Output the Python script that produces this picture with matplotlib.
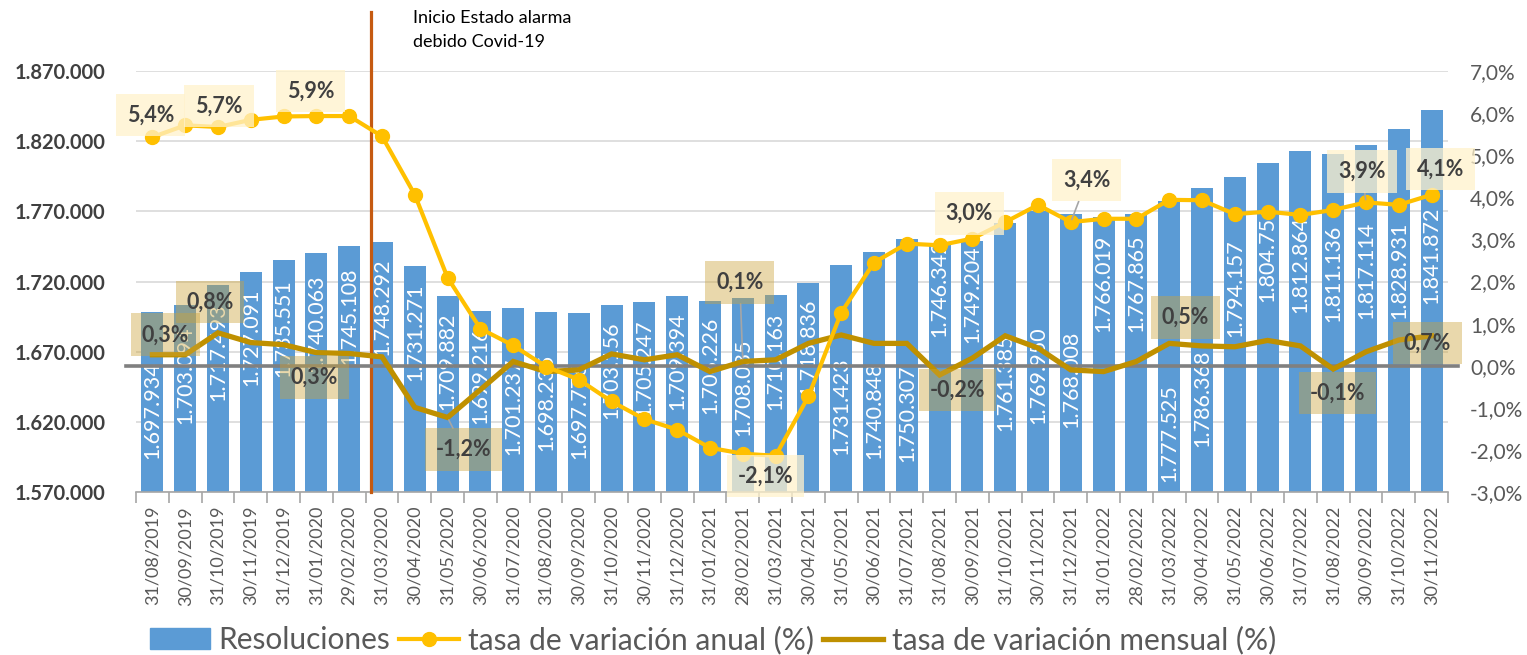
import matplotlib
matplotlib.use('Agg')
import matplotlib.pyplot as plt
import numpy as np
from matplotlib.patches import Patch
from matplotlib.lines import Line2D

fechas = ['31/08/2019', '30/09/2019', '31/10/2019', '30/11/2019', '31/12/2019',
          '31/01/2020', '29/02/2020', '31/03/2020', '30/04/2020', '31/05/2020',
          '30/06/2020', '31/07/2020', '31/08/2020', '30/09/2020', '31/10/2020',
          '30/11/2020', '31/12/2020', '31/01/2021', '28/02/2021', '31/03/2021',
          '30/04/2021', '31/05/2021', '30/06/2021', '31/07/2021', '31/08/2021',
          '30/09/2021', '31/10/2021', '30/11/2021', '31/12/2021', '31/01/2022',
          '28/02/2022', '31/03/2022', '30/04/2022', '31/05/2022', '30/06/2022',
          '31/07/2022', '31/08/2022', '30/09/2022', '31/10/2022', '30/11/2022']

resoluciones = [1697934, 1703094, 1717493, 1727091, 1735551, 1740063, 1745108, 1748292,
                1731271, 1709882, 1699216, 1701237, 1698235, 1697776, 1703156, 1705247,
                1709394, 1706226, 1708035, 1710163, 1718836, 1731423, 1740848, 1750307,
                1746342, 1749204, 1761385, 1769950, 1768008, 1766019, 1767865, 1777525,
                1786368, 1794157, 1804756, 1812864, 1811136, 1817114, 1828931, 1841872]

tasa_anual = [5.43, 5.71, 5.67, 5.84, 5.92, 5.93, 5.93, 5.45, 4.06, 2.09,
              0.88, 0.48, -0.02, -0.33, -0.85, -1.27, -1.52, -1.95, -2.09, -2.14,
              -0.73, 1.26, 2.45, 2.90, 2.86, 3.02, 3.41, 3.82, 3.41, 3.49,
              3.49, 3.94, 3.93, 3.60, 3.66, 3.58, 3.70, 3.88, 3.82, 4.06]

tasa_mensual = [0.26, 0.26, 0.78, 0.55, 0.50, 0.31, 0.29, 0.21, -0.99, -1.23,
                -0.57, 0.10, -0.14, -0.10, 0.28, 0.14, 0.26, -0.14, 0.10, 0.14,
                0.53, 0.73, 0.53, 0.53, -0.22, 0.18, 0.71, 0.42, -0.10, -0.14,
                0.10, 0.53, 0.47, 0.45, 0.60, 0.47, -0.08, 0.33, 0.61, 0.71]

# which points carry a % label, and where the label box sits (offset in pixels)
etq_anual = {0: (-2, 22), 2: (1, 21), 5: (-6, 25), 19: (-10, -20), 25: (-3, 25),
             28: (16, 42), 37: (-4, 31), 39: (9, 26)}
etq_mensual = {0: (13, 20), 2: (-8, 31), 5: (-2, -25), 9: (16, -32), 18: (-3, 79),
               24: (18, -15), 31: (16, 26), 36: (4, -24), 39: (-4, -7)}
con_guia = {('a', 28), ('a', 37), ('m', 9), ('m', 18)}

# centre of the white value label inside each bar (thousands, left axis)
pos_etiqueta = [1628, 1653, 1670, 1680, 1687, 1690, 1695, 1702, 1684, 1663,
                1653, 1631, 1634, 1628, 1657, 1658, 1663, 1660, 1645, 1663,
                1673, 1631, 1628, 1626, 1715, 1711, 1648, 1653, 1650, 1719,
                1719, 1612, 1637, 1715, 1740, 1732, 1726, 1728, 1728, 1739]

plt.rcParams['font.family'] = ['Lato', 'DejaVu Sans']

AZUL = '#5B9BD5'
AMARILLO = '#FFC000'
ORO = '#BF9000'
GRIS = '#595959'

fig = plt.figure(figsize=(15.27, 6.55), dpi=100)
ax = fig.add_axes([136 / 1527, 1 - 492 / 655, 1312 / 1527, 421 / 655])
ax2 = ax.twinx()

x = np.arange(len(fechas))


def miles(v):
    return f'{v:,.0f}'.replace(',', '.')


def pct(v):
    return f'{v:.1f}%'.replace('.', ',')


ax.bar(x, resoluciones, width=0.67, color=AZUL, zorder=2)
for i, v in enumerate(resoluciones):
    ax.text(i, pos_etiqueta[i] * 1000, miles(v), rotation=90, ha='center', va='center',
            color='white', fontsize=15.5, zorder=3)

ax.set_ylim(1570000, 1870000)
ax.set_yticks(np.arange(1570000, 1870001, 50000))
ax.set_yticklabels([miles(v) for v in ax.get_yticks()], fontsize=14.5,
                   fontweight='bold', color='#404040')
ax.grid(axis='y', color='#D9D9D9', lw=1.2, zorder=0)
ax.set_axisbelow(True)
ax.set_xlim(-0.5, len(fechas) - 0.5)
ax.set_xticks(x)
ax.set_xticklabels(fechas, rotation=90, fontsize=13, color=GRIS)
ax.set_xticks(np.arange(-0.5, len(fechas), 1), minor=True)
ax.tick_params(axis='x', which='major', length=0, pad=10)
ax.tick_params(axis='x', which='minor', length=8, width=1.2, color='#A6A6A6')
ax.tick_params(axis='y', length=0, pad=22)
for s in ['top', 'left', 'right']:
    ax.spines[s].set_visible(False)
ax.spines['bottom'].set_color('#A6A6A6')
ax.spines['bottom'].set_linewidth(1.2)

ax2.set_ylim(-3, 7)
ax2.set_yticks(np.arange(-3, 7.01, 1))
ax2.set_yticklabels([pct(v) for v in ax2.get_yticks()], fontsize=15, color=GRIS)
ax2.tick_params(axis='y', length=0, pad=16)
for s in ax2.spines.values():
    s.set_visible(False)

ax2.axhline(0, xmin=-0.008, xmax=1.008, color='#808080', lw=2.6, clip_on=False, zorder=1)
ax2.plot(x, tasa_mensual, color=ORO, lw=3.8, zorder=3, solid_joinstyle='miter')
ax2.plot(x, tasa_anual, color=AMARILLO, lw=3, marker='o', markersize=10, zorder=4)

# vertical line for the state of alarm
trans = ax.get_xaxis_transform()
ax.plot([6.65, 6.65], [0, 480 / 421], transform=trans, color='#C55A11', lw=2.3,
        clip_on=False, zorder=5)
fig.text(413 / 1527, 1 - 10 / 655, 'Inicio Estado alarma\ndebido Covid-19', va='top',
         ha='left', fontsize=13, color='black', linespacing=1.6)


def etiqueta(serie, i, off, color, alpha, tipo):
    guia = None
    if (tipo, i) in con_guia:
        guia = dict(arrowstyle='-', color='#A6A6A6', lw=1.2, shrinkA=0, shrinkB=2)
    ax2.annotate(pct(serie[i]), (i, serie[i]), xytext=off, textcoords='offset pixels',
                 ha='center', va='center', fontsize=15.5, fontweight='bold', color='#404040',
                 bbox=dict(boxstyle='square,pad=0.5', fc=color, ec='none', alpha=alpha),
                 arrowprops=guia, zorder=6)


for i, off in etq_anual.items():
    etiqueta(tasa_anual, i, off, '#FFF2CC', 0.75, 'a')
for i, off in etq_mensual.items():
    etiqueta(tasa_mensual, i, off, '#CCA43A', 0.42, 'm')

handles = [Patch(color=AZUL),
           Line2D([], [], color=AMARILLO, lw=3, marker='o', markersize=10),
           Line2D([], [], color=ORO, lw=3.8)]
labels = ['Resoluciones', 'tasa de variación anual (%)', 'tasa de variación mensual (%)']
leg = fig.legend(handles, labels, loc='center left', bbox_to_anchor=(150 / 1527, 1 - 640 / 655),
                 ncol=3, frameon=False, fontsize=21.5, handlelength=2.0, handletextpad=0.3,
                 columnspacing=0.3, borderaxespad=0, borderpad=0)
for t in leg.get_texts():
    t.set_color(GRIS)

fig.savefig('out.png', dpi=100)
plt.close(fig)
